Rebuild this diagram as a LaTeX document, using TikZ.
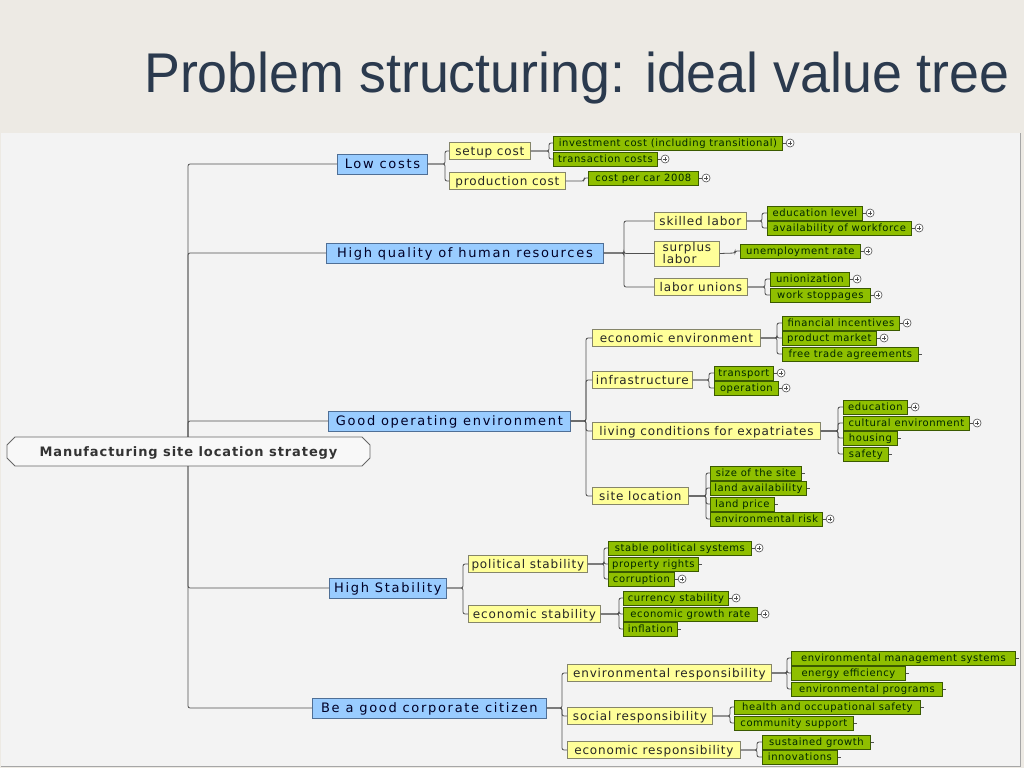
\documentclass[tikz,border=0pt]{standalone}
\usepackage{fontspec}
\setmainfont{DejaVu Sans}
\newfontfamily\titlefont{Liberation Sans}
\newfontfamily\mainfont[LetterSpace=13]{DejaVu Sans}
\newfontfamily\subfont[LetterSpace=7]{DejaVu Sans}
\newfontfamily\leaffont[LetterSpace=6]{DejaVu Sans}
\newfontfamily\rootfont[LetterSpace=7]{DejaVu Sans}
\usetikzlibrary{positioning}
\definecolor{paper}{HTML}{EDEAE4}
\definecolor{panel}{HTML}{F3F3F3}
\definecolor{titleblue}{HTML}{2B3A4E}
\definecolor{linegray}{HTML}{505050}
\definecolor{rootfill}{HTML}{F8F8F8}
\definecolor{bluefill}{HTML}{99CCFF}
\definecolor{blueline}{HTML}{4F6F96}
\definecolor{yellowfill}{HTML}{FFFF99}
\definecolor{yellowline}{HTML}{85856A}
\definecolor{greenfill}{HTML}{8FBF00}
\definecolor{greenline}{HTML}{3A5A00}
\tikzset{
	rootbox/.style={minimum width=363, minimum height=29, inner sep=1pt, text height=9.5pt, text depth=0pt, font=\rootfont\fontsize{13}{15}\bfseries\selectfont, text=black!80},
	mainbox/.style={anchor=west, draw=blueline, fill=bluefill, line width=0.8pt, minimum height=20, minimum width=#1, inner sep=2pt, text height=9.5pt, text depth=0pt, font=\mainfont\fontsize{13}{15}\selectfont, text=black!85!blue},
	subbox/.style={anchor=west, draw=yellowline, fill=yellowfill, line width=0.8pt, minimum height=17, minimum width=#1, inner sep=1.5pt, text height=8.8pt, text depth=0pt, font=\subfont\fontsize{12}{12}\selectfont, text=black!85},
	leafbox/.style={anchor=west, draw=greenline, fill=greenfill, line width=0.8pt, minimum height=14, minimum width=#1, inner sep=1pt, text height=7.3pt, text depth=0pt, font=\leaffont\fontsize{10}{11}\selectfont, text=black!85!green},
	conn/.style={draw=linegray, line width=0.8pt, rounded corners=2pt},
	plusmark/.style={circle, draw=linegray, fill=white, line width=0.6pt, minimum size=8pt, inner sep=0pt,
		path picture={\draw[linegray, line width=0.6pt] (path picture bounding box.center) +(-2.2pt,0) -- +(2.2pt,0) (path picture bounding box.center) +(0,-2.2pt) -- +(0,2.2pt);}},
}
\begin{document}
\begin{tikzpicture}[x=1pt, y=-1pt]
	\useasboundingbox (0,0) rectangle (1024,768);
	\fill[paper] (0,0) rectangle (1024,768);
	\fill[panel] (1,133) rectangle (1020,766);
	\draw[gray!70, line width=0.8pt] (1020,133) -- (1020,766) -- (1,766);
	\node[anchor=base east, inner sep=0pt, text=titleblue] (title) at (1010,92) {\titlefont\fontsize{56}{60}\selectfont\scalebox{0.96}[1]{Problem structuring: ideal value tree}};

	% root and main objectives
	\filldraw[fill=rootfill, draw=gray!80!black, line width=0.9pt] (15,437) -- (362,437) -- (370,445) -- (370,458) -- (362,466) -- (15,466) -- (7,458) -- (7,445) -- cycle;
	\node[rootbox] (root) at (188.5,451.5) {Manufacturing site location strategy};
	\coordinate (trunk) at (188,451);
	\node[mainbox=90] (lc) at (337,164) {Low costs};
	\node[mainbox=277] (hq) at (326,253) {High quality of human resources};
	\node[mainbox=242] (goe) at (328,421) {Good operating environment};
	\node[mainbox=117] (hs) at (329,588) {High Stability};
	\node[mainbox=234] (gcc) at (312,708) {Be a good corporate citizen};

	% sub objectives
	\node[subbox=81] (setup) at (449,151) {setup cost};
	\node[subbox=116] (prod) at (449,181) {production cost};
	\node[subbox=92] (skill) at (654,221) {skilled labor};
	\node[subbox=65, minimum height=25, text height=, text depth=, align=left] (surplus) at (654,253.5) {surplus\\labor};
	\node[subbox=93] (unions) at (654,287) {labor unions};
	\node[subbox=168] (econenv) at (592,338) {economic environment};
	\node[subbox=100] (infra) at (592,380) {infrastructure};
	\node[subbox=228] (living) at (592,431) {living conditions for expatriates};
	\node[subbox=96] (site) at (592,496) {site location};
	\node[subbox=119] (polit) at (468,564) {political stability};
	\node[subbox=132] (econstab) at (468,614) {economic stability};
	\node[subbox=204] (envresp) at (567,673) {environmental responsibility};
	\node[subbox=145] (socresp) at (567,716) {social responsibility};
	\node[subbox=173] (ecoresp) at (567,750) {economic responsibility};

	% attributes
	\node[leafbox=229] (inv) at (553,143) {investment cost (including transitional)};
	\node[leafbox=104] (trans) at (553,159) {transaction costs};
	\node[leafbox=110] (car) at (588,178) {cost per car 2008};
	\node[leafbox=95] (edulvl) at (767,213) {education level};
	\node[leafbox=144] (avail) at (767,228) {availability of workforce};
	\node[leafbox=120] (unemp) at (740,251) {unemployment rate};
	\node[leafbox=79] (unioniz) at (770,279) {unionization};
	\node[leafbox=100] (stopp) at (770,295) {work stoppages};
	\node[leafbox=117] (fin) at (782,323) {financial incentives};
	\node[leafbox=94] (prodmkt) at (782,338) {product market};
	\node[leafbox=136] (fta) at (782,354) {free trade agreements};
	\node[leafbox=59] (transp) at (714,373) {transport};
	\node[leafbox=64] (oper) at (714,388) {operation};
	\node[leafbox=64] (edu) at (843,407) {education};
	\node[leafbox=126] (cult) at (843,423) {cultural environment};
	\node[leafbox=54] (housing) at (843,438) {housing};
	\node[leafbox=45] (safety) at (843,454) {safety};
	\node[leafbox=91] (size) at (710,473) {size of the site};
	\node[leafbox=96] (landav) at (710,488) {land availability};
	\node[leafbox=64] (landpr) at (710,504) {land price};
	\node[leafbox=112] (envrisk) at (710,519) {environmental risk};
	\node[leafbox=143] (stable) at (608,548) {stable political systems};
	\node[leafbox=90] (prop) at (608,564) {property rights};
	\node[leafbox=66] (corr) at (608,579) {corruption};
	\node[leafbox=105] (curr) at (623,598) {currency stability};
	\node[leafbox=134] (growth) at (623,614) {economic growth rate};
	\node[leafbox=54] (infl) at (623,629) {inflation};
	\node[leafbox=224] (ems) at (791,658) {environmental management systems};
	\node[leafbox=114] (energy) at (791,673) {energy efficiency};
	\node[leafbox=151] (envprog) at (791,689) {environmental programs};
	\node[leafbox=186] (health) at (734,707) {health and occupational safety};
	\node[leafbox=119] (comm) at (734,723) {community support};
	\node[leafbox=108] (sust) at (762,742) {sustained growth};
	\node[leafbox=75] (innov) at (762,757) {innovations};

	% bracket points
	\coordinate (lc-b) at (445,164);
	\coordinate (setup-b) at (549,151);
	\coordinate (prod-b) at (584,181);
	\coordinate (hq-b) at (624,253);
	\coordinate (skill-b) at (762,221);
	\coordinate (surplus-b) at (735,253);
	\coordinate (unions-b) at (765,287);
	\coordinate (goe-b) at (586,421);
	\coordinate (econenv-b) at (777,338);
	\coordinate (infra-b) at (709,380);
	\coordinate (living-b) at (838,431);
	\coordinate (site-b) at (706,496);
	\coordinate (hs-b) at (463,588);
	\coordinate (polit-b) at (604,564);
	\coordinate (econstab-b) at (619,614);
	\coordinate (gcc-b) at (562,708);
	\coordinate (envresp-b) at (787,673);
	\coordinate (socresp-b) at (730,716);
	\coordinate (ecoresp-b) at (757,750);

	% connectors
	\foreach \c in {lc,hq,goe} \draw[conn] (root.north -| trunk) |- (\c.west);
	\foreach \c in {hs,gcc} \draw[conn] (root.south -| trunk) |- (\c.west);
	\foreach \p/\cs in {lc/{setup,prod}, setup/{inv,trans}, prod/{car}, hq/{skill,surplus,unions}, skill/{edulvl,avail}, surplus/{unemp}, unions/{unioniz,stopp}, goe/{econenv,infra,living,site}, econenv/{fin,prodmkt,fta}, infra/{transp,oper}, living/{edu,cult,housing,safety}, site/{size,landav,landpr,envrisk}, hs/{polit,econstab}, polit/{stable,prop,corr}, econstab/{curr,growth,infl}, gcc/{envresp,socresp,ecoresp}, envresp/{ems,energy,envprog}, socresp/{health,comm}, ecoresp/{sust,innov}}
		{\foreach \c in \cs \draw[conn] (\p.east) -- (\p-b) |- (\c.west);}
	\foreach \n in {inv,trans,car,edulvl,avail,unemp,unioniz,stopp,fin,prodmkt,transp,oper,edu,cult,envrisk,stable,corr,curr,growth}
		\draw[conn] (\n.east) -- ++(3,0) node[plusmark, anchor=west] {};
	\foreach \n in {fta,housing,safety,size,landav,landpr,prop,infl,ems,energy,envprog,health,comm,sust,innov}
		\draw[conn] (\n.east) -- ++(3,0);
\end{tikzpicture}
\end{document}
